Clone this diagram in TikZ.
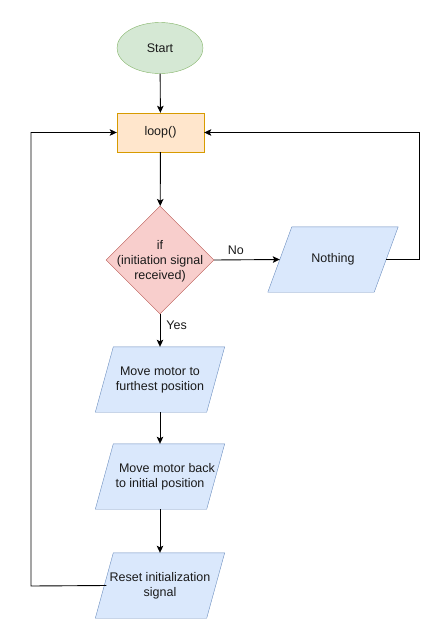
\documentclass[tikz,border=0pt]{standalone}
\usepackage{fontspec}
\setmainfont{Liberation Sans}
\usetikzlibrary{shapes.geometric,arrows.meta,backgrounds}
\definecolor{gfill}{HTML}{D5E8D4}\definecolor{gline}{HTML}{82B366}
\definecolor{ofill}{HTML}{FFE6CC}\definecolor{oline}{HTML}{D79B00}
\definecolor{rfill}{HTML}{F8CECC}\definecolor{rline}{HTML}{B85450}
\definecolor{bfill}{HTML}{DAE8FC}\definecolor{bline}{HTML}{6C8EBF}
\definecolor{txt}{HTML}{1A1A1A}
\begin{document}
\begin{tikzpicture}[x=1pt,y=-1pt,
  every node/.style={font=\fontsize{12.5}{15}\selectfont, text=txt},
  startbox/.style={ellipse, draw=gline, fill=gfill, minimum width=86, minimum height=51, inner sep=0},
  loopbox/.style={rectangle, draw=oline, fill=ofill, minimum width=87, minimum height=39, inner sep=0},
  decbox/.style={diamond, draw=rline, fill=rfill, minimum width=108, minimum height=108, inner sep=0},
  iobox/.style={rectangle, minimum width=#1, minimum height=65, inner sep=0, align=center},
  para/.style={draw=bline, fill=bfill},
  conn/.style={draw=black, line width=0.9pt, -{Stealth[length=7pt,width=6.5pt,inset=1.5pt]}},
  lbl/.style={inner sep=0}]
\useasboundingbox (0,0) rectangle (434,624);
\node[startbox] (start) at (160,48) {Start};
\node[loopbox] (loop) at (160.5,132.5) {loop()};
\node[decbox] (dec) at (160,260) {};
\node[align=center, inner sep=0] (dectext) at (160,261) {if\\(initiation signal\\received)};
\node[iobox=106] (nothing) at (333,259.5) {Nothing};
\node[iobox=111] (m1) at (160,379.5) {Move motor to\\furthest position};
\node[iobox=111] (m2) at (160,476.5) {\hspace*{14pt}Move motor back\\to initial position};
\node[iobox=111] (rs) at (160,585.5) {Reset initialization\\signal};
\begin{scope}[on background layer]
\draw[para] ([xshift=12]nothing.north west) -- ([xshift=12]nothing.north east) -- ([xshift=-12]nothing.south east) -- ([xshift=-12]nothing.south west) -- cycle;
\foreach \n in {m1,m2,rs}
  \draw[para] ([xshift=9]\n.north west) -- ([xshift=9]\n.north east) -- ([xshift=-9]\n.south east) -- ([xshift=-9]\n.south west) -- cycle;
\end{scope}
\coordinate (rtop) at (419,132.5);
\coordinate (rbot) at (419,259.5);
\coordinate (ltop) at (31,132.5);
\coordinate (lbot) at (31,586);
\draw[conn] (start) -- (loop);
\draw[conn] (loop) -- (dec);
\draw[conn] (dec.east) -- node[lbl, above=5pt, pos=0.33] (no) {No} (nothing.west);
\draw[conn] (dec.south) -- node[lbl, right=6pt, pos=0.35] (yes) {Yes} (m1.north);
\draw[conn] (m1) -- (m2);
\draw[conn] (m2) -- (rs);
\draw[conn] (nothing.east) -- (rbot) -- (rtop) -- (loop.east);
\draw[conn] ([xshift=2]rs.west) -- (lbot) -- (ltop) -- (loop.west);
\end{tikzpicture}
\end{document}
